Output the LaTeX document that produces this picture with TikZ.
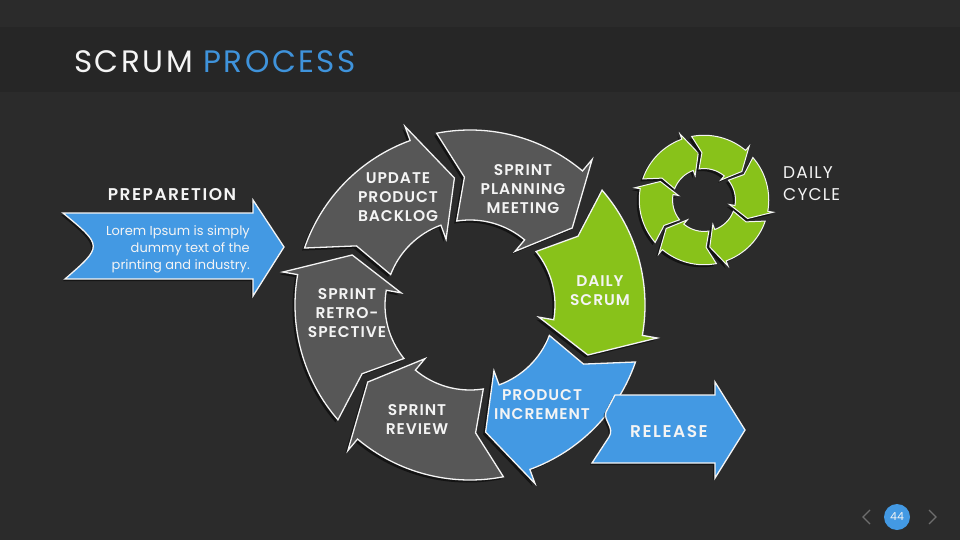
\documentclass[tikz,border=0pt]{standalone}
\usepackage{fontspec}
\setmainfont{Poppins}[BoldFont={Poppins SemiBold}]
\usepackage{tikz}
\usetikzlibrary{shadows}
\definecolor{pagebg}{HTML}{2B2B2B}
\definecolor{barbg}{HTML}{262626}
\definecolor{scrumgrey}{HTML}{575757}
\definecolor{scrumgreen}{HTML}{88C21A}
\definecolor{scrumblue}{HTML}{4399E3}
\definecolor{titleblue}{HTML}{3F93DB}
\definecolor{softwhite}{HTML}{F4F4F4}
\definecolor{chevgrey}{HTML}{6E6E6E}

% one curved arrow of a cycle: start angle, fill colour
\newcommand{\scrumarrow}[2]{%
  \draw[ringarrow, fill=#2] ({#1-1}:175) arc[start angle={#1-1}, end angle={#1+50}, radius=175]
    -- ({#1+50}:190) -- ({#1+63}:128) -- ({#1+50}:70) -- ({#1+50}:85)
    arc[start angle={#1+50}, end angle={#1+1}, radius=85] -- ({#1+7.5}:128) -- cycle;}

\begin{document}
\begin{tikzpicture}
  [x=1pt,y=-1pt,
   every node/.style={text=softwhite, align=center, inner sep=0pt},
   ringarrow/.style={draw=softwhite, line width=1.3pt, line join=miter,
     drop shadow={shadow xshift=-2.5pt, shadow yshift=-2.5pt, opacity=0.55, fill=black}},
   flatarrow/.style={draw=softwhite, line width=1.3pt, fill=scrumblue,
     drop shadow={shadow xshift=-2pt, shadow yshift=-2pt, opacity=0.5, fill=black}},
   steplabel/.style={font=\bfseries\fontsize{15.5}{19}\selectfont\addfontfeatures{LetterSpace=6}},
   chevron/.style={draw=chevgrey, line width=1.2pt}]
  \fill[pagebg] (0,0) rectangle (960,540);
  \useasboundingbox (0,0) rectangle (960,540);
  \fill[barbg] (0,27) rectangle (960,92);

  \node[anchor=base west, font=\fontsize{31}{31}\selectfont\addfontfeatures{LetterSpace=8}] (title) at (74,73)
    {SCRUM \textcolor{titleblue}{PROCESS}};

  % main cycle
  \begin{scope}[shift={(470,305)}]
    \foreach \s/\c in {200/scrumgrey, 260/scrumgrey, 320/scrumgreen, 20/scrumblue, 80/scrumgrey, 140/scrumgrey}
      \scrumarrow{\s}{\c};
  \end{scope}

  % daily cycle
  \begin{scope}[shift={(704,200)}, scale=0.37, ringarrow/.append style={line width=1pt}]
    \foreach \s in {200,260,320,20,80,140}
      \scrumarrow{\s}{scrumgreen};
  \end{scope}

  % preparation and release
  \draw[flatarrow] (63,213) -- (253,213) -- (253,200) -- (284,247) -- (253,296) -- (253,279)
    -- (65,279) .. controls (103,246) and (103,246) .. (63,213) -- cycle;
  \draw[flatarrow] (615,395) -- (715,395) -- (715,382) -- (745,430) -- (715,478) -- (715,463)
    -- (592,463) -- (609,437) .. controls (615,428) and (603,420) .. (606,412) -- cycle;

  \node[steplabel] (backlog) at (398,197) {UPDATE\\PRODUCT\\BACKLOG};
  \node[steplabel] (planning) at (523,189) {SPRINT\\PLANNING\\MEETING};
  \node[steplabel] (scrum) at (600,291) {DAILY\\SCRUM};
  \node[steplabel] (increment) at (542,405) {PRODUCT\\INCREMENT};
  \node[steplabel] (review) at (417,420) {SPRINT\\REVIEW};
  \node[steplabel] (retro) at (347,313) {SPRINT\\RETRO-\\SPECTIVE};

  \node[font=\bfseries\fontsize{17}{17}\selectfont\addfontfeatures{LetterSpace=9}] (prep) at (172,195) {PREPARETION};
  \node[anchor=east, align=right, font=\fontsize{13}{17}\selectfont] (lorem) at (250,249)
    {Lorem Ipsum is simply\\dummy text of the\\printing and industry.};
  \node[font=\bfseries\fontsize{17}{17}\selectfont\addfontfeatures{LetterSpace=9}] (release) at (669,432) {RELEASE};
  \node[anchor=west, align=left, font=\fontsize{17}{22}\selectfont\addfontfeatures{LetterSpace=7}] (cycle) at (783,184)
    {DAILY\\CYCLE};

  % page number
  \node[circle, fill=scrumblue, minimum size=26pt, font=\fontsize{11}{11}\selectfont] (pagenum) at (897,517) {44};
  \draw[chevron] (870,510) -- (863,517) -- (870,524);
  \draw[chevron] (929,510) -- (936,517) -- (929,524);
\end{tikzpicture}
\end{document}
